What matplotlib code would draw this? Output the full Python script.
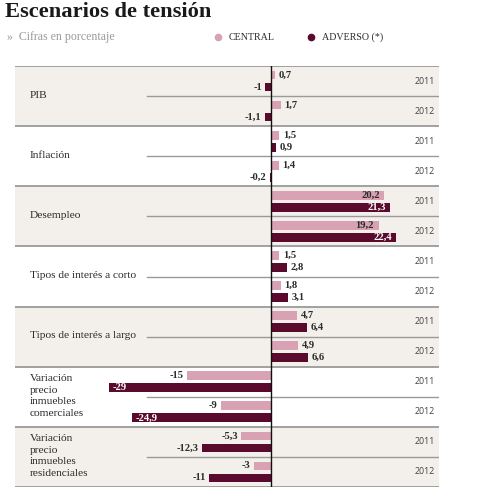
import matplotlib
matplotlib.use("Agg")
import matplotlib.pyplot as plt
from matplotlib.lines import Line2D

categories = ["PIB", "Inflación", "Desempleo", "Tipos de interés a corto",
              "Tipos de interés a largo",
              "Variación\nprecio\ninmuebles\ncomerciales",
              "Variación\nprecio\ninmuebles\nresidenciales"]
years = ["2011", "2012"]
# ordered by category, then year (2011, 2012)
central = [0.7, 1.7, 1.5, 1.4, 20.2, 19.2, 1.5, 1.8, 4.7, 4.9, -15, -9, -5.3, -3]
adverso = [-1, -1.1, 0.9, -0.2, 21.3, 22.4, 2.8, 3.1, 6.4, 6.6, -29, -24.9, -12.3, -11]

PINK = "#d9a2b4"
DARK = "#5a0a2c"
BEIGE = "#f3f0eb"
LINE = "#9a9a9a"
TXT = "#2b2b2b"
SERIF = ["Liberation Serif", "DejaVu Serif"]

W, H = 478, 500
fig = plt.figure(figsize=(W / 100, H / 100), dpi=100)
fig.patch.set_facecolor("white")

# table axes in pixel layout
L, R, T, B = 15, 439, 66, 487
ax = fig.add_axes([L / W, 1 - B / H, (R - L) / W, (B - T) / H])
zero_px = 271
ppu = 5.6
x0 = -(zero_px - L) / ppu
x1 = (R - zero_px) / ppu
ax.set_xlim(x0, x1)
n = len(categories) * len(years)
ax.set_ylim(n, 0)
ax.axis("off")

def fmt(v):
    s = ("%.1f" % v).replace(".", ",")
    if s.endswith(",0"):
        s = s[:-2]
    return s

sub_frac = (147 - L) / (R - L)
for g, cat in enumerate(categories):
    top = g * 2
    if g % 2 == 0:
        ax.axhspan(top, top + 2, color=BEIGE, zorder=0, lw=0)
    ax.text(x0 + (30 - L) / ppu, top + 0.97, cat, ha="left", va="center",
            fontsize=8.2, color=TXT, family=SERIF, linespacing=1.38)
    ax.axhline(top + 1, xmin=sub_frac, xmax=1, color=LINE, lw=1.0, zorder=1)

for k in range(len(categories) + 1):
    ax.axhline(2 * k, color=LINE, lw=1.3, zorder=1)

off = 0.2
bh = 0.29
pad = 0.6
VF = 7.6
for i in range(n):
    yc = i + 0.5
    ax.text(x0 + (425 - L) / ppu, yc, years[i % 2], ha="center", va="center",
            fontsize=6.4, color="#444444", family=["Open Sans", "DejaVu Sans"])
    for val, yy, col, incol in ((central[i], yc - off, PINK, TXT),
                                (adverso[i], yc + off, DARK, "white")):
        ax.barh(yy, val, height=bh, color=col, zorder=2, lw=0)
        if abs(val) >= 19:
            if val > 0:
                ax.text(val - 0.8, yy, fmt(val), ha="right", va="center",
                        fontsize=VF, fontweight="bold", color=incol,
                        family=SERIF, zorder=3)
            else:
                ax.text(val + 0.7, yy, fmt(val), ha="left", va="center",
                        fontsize=VF, fontweight="bold", color=incol,
                        family=SERIF, zorder=3)
        else:
            if val >= 0:
                ax.text(val + pad, yy, fmt(val), ha="left", va="center",
                        fontsize=VF, fontweight="bold", color=TXT,
                        family=SERIF, zorder=3)
            else:
                ax.text(val - pad, yy, fmt(val), ha="right", va="center",
                        fontsize=VF, fontweight="bold", color=TXT,
                        family=SERIF, zorder=3)

ax.axvline(0, color="#111111", lw=1.0, zorder=4)

# header
fig.text(5 / W, 1 - 17 / H, "Escenarios de tensión", ha="left", va="baseline",
         fontsize=16.2, fontweight="bold", color="#1a1a1a", family=SERIF)
fig.text(7 / W, 1 - 37 / H, "»  Cifras en porcentaje", ha="left", va="center",
         fontsize=8.6, color="#9a9a9a", family=SERIF)
for xd, xt, col, lab in ((218, 229, PINK, "CENTRAL"), (311, 322, DARK, "ADVERSO (*)")):
    fig.add_artist(Line2D([xd / W], [1 - 37 / H], transform=fig.transFigure,
                          marker="o", ms=4.5, color=col, mec=col, ls=""))
    fig.text(xt / W, 1 - 37 / H, lab, ha="left", va="center", fontsize=7.2,
             color=TXT, family=SERIF)

fig.savefig("out.png", dpi=100)
